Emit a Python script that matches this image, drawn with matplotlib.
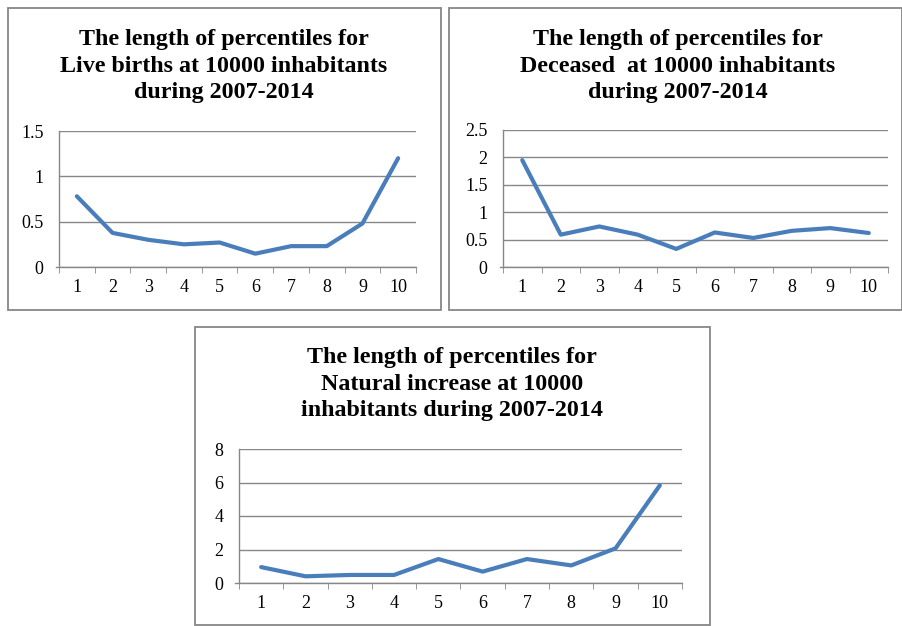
import matplotlib
matplotlib.use('Agg')

import matplotlib.pyplot as plt
from matplotlib.patches import Rectangle

# percentile groups 1..10
groups = list(range(1, 11))

live_births = [0.78, 0.376, 0.30, 0.25, 0.27, 0.147, 0.23, 0.23, 0.48, 1.2]
deceased = [1.95, 0.59, 0.74, 0.59, 0.33, 0.63, 0.53, 0.66, 0.71, 0.62]
natural_increase = [0.95, 0.40, 0.48, 0.48, 1.43, 0.68, 1.43, 1.05, 2.07, 5.83]

titles = [
    "The length of percentiles for\nLive births at 10000 inhabitants\nduring 2007-2014",
    "The length of percentiles for\nDeceased  at 10000 inhabitants\nduring 2007-2014",
    "The length of percentiles for\nNatural increase at 10000\ninhabitants during 2007-2014",
]
yticks = [
    [0, 0.5, 1, 1.5],
    [0, 0.5, 1, 1.5, 2, 2.5],
    [0, 2, 4, 6, 8],
]
ytick_labels = [
    ["0", "0.5", "1", "1.5"],
    ["0", "0.5", "1", "1.5", "2", "2.5"],
    ["0", "2", "4", "6", "8"],
]

W, H = 903, 626
LINE = "#4a7ebb"
GRID = "#878787"

plt.rcParams['font.family'] = ['Liberation Serif', 'DejaVu Serif']

fig = plt.figure(figsize=(W / 100, H / 100), dpi=100)


def px_rect(x0, y0, x1, y1):
    """pixel box (top-left origin) -> figure fraction [l, b, w, h]"""
    return [x0 / W, 1 - y1 / H, (x1 - x0) / W, (y1 - y0) / H]


def frame(x0, y0, x1, y1):
    l, b, w, h = px_rect(x0, y0, x1, y1)
    fig.patches.append(Rectangle((l, b), w, h, transform=fig.transFigure,
                                 fill=False, edgecolor=GRID, linewidth=1.3))


def panel(box, area, title_xy, title, values, ticks, labels):
    frame(*box)
    ax = fig.add_axes(px_rect(*area))
    ax.plot(groups, values, color=LINE, linewidth=3.0, solid_capstyle='round',
            solid_joinstyle='round', clip_on=False)
    ax.set_xlim(0.5, 10.5)
    ax.set_ylim(ticks[0], ticks[-1])
    ax.set_yticks(ticks)
    ax.set_yticklabels(labels)
    ax.set_xticks(groups)
    ax.set_xticks([g + 0.5 for g in range(0, 11)], minor=True)
    ax.tick_params(axis='x', which='major', length=0, pad=9, labelsize=13)
    ax.tick_params(axis='x', which='minor', length=4, direction='out', color=GRID)
    ax.tick_params(axis='y', length=0, pad=11, labelsize=13)
    ax.grid(axis='y', color=GRID, linewidth=1.0)
    ax.set_axisbelow(True)
    for s in ['top', 'right']:
        ax.spines[s].set_visible(False)
    for s in ['left', 'bottom']:
        ax.spines[s].set_color(GRID)
        ax.spines[s].set_linewidth(1.0)
    ax.spines['bottom'].set_bounds(0.42, 10.5)
    tx, ty = title_xy
    fig.text(tx / W, 1 - ty / H, title, ha='center', va='center',
             fontsize=17.3, fontweight='bold', linespacing=1.35)


panel((8, 8, 441, 310), (59, 131, 416, 267), (224, 66),
      titles[0], live_births, yticks[0], ytick_labels[0])
panel((449, 8, 902, 310), (503, 130, 888, 267), (678, 66),
      titles[1], deceased, yticks[1], ytick_labels[1])
panel((195, 327, 710, 625), (239, 449, 682, 583), (452, 384),
      titles[2], natural_increase, yticks[2], ytick_labels[2])

fig.savefig("out.png", dpi=100)
